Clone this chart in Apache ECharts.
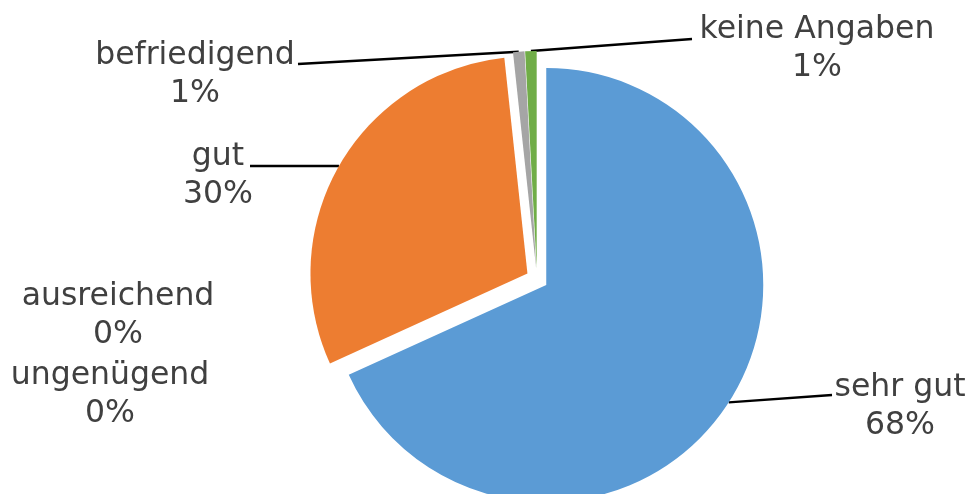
<!DOCTYPE html>
<html><head><meta charset="utf-8">
<script src="https://cdn.jsdelivr.net/npm/echarts@6/dist/echarts.min.js"></script>
<style>html,body{margin:0;padding:0;background:#fff;}#c{width:973px;height:494px;}</style>
</head><body><div id="c"></div>
<script>
const categories = ['sehr gut', 'ungenügend', 'ausreichend', 'gut', 'befriedigend', 'keine Angaben'];
const values = [68.2, 0, 0, 30.1, 0.85, 0.85];
const colors = ['#5B9BD5', '#4472C4', '#FFC000', '#ED7D31', '#A5A5A5', '#70AD47'];

// label placement (text centre) and leader-line end point, by data index
const labelPlace = [
  { x: 900, y: 407, end: [832, 395] },
  { x: 110, y: 395, end: null },
  { x: 118, y: 316, end: null },
  { x: 218, y: 176, end: [250, 166] },
  { x: 195, y: 75, end: [298, 64] },
  { x: 817, y: 49, end: [692, 39] }
];

const FONT = 'DejaVu Sans';
const CENTER = [537, 279];
const RADIUS = 217;
const EXPLODE = 11;

const chart = echarts.init(document.getElementById('c'), null, { renderer: 'canvas' });

const sliceData = categories.map((name, i) => ({
  name: name,
  value: values[i],
  selected: true,
  itemStyle: { color: colors[i] }
}));

const labelData = categories.map((name, i) => ({
  name: name,
  value: values[i],
  labelLine: { show: labelPlace[i].end !== null }
}));

chart.setOption({
  animation: false,
  series: [{
    type: 'pie',
    center: CENTER,
    radius: RADIUS,
    startAngle: 90,
    clockwise: true,
    selectedMode: 'multiple',
    selectedOffset: EXPLODE,
    emphasis: { disabled: true },
    itemStyle: { borderWidth: 0 },
    label: { show: false },
    labelLine: { show: false },
    data: sliceData
  }, {
    // transparent twin of the pie that carries the data labels
    type: 'pie',
    silent: true,
    center: CENTER,
    radius: RADIUS + EXPLODE,
    startAngle: 90,
    clockwise: true,
    selectedMode: false,
    avoidLabelOverlap: false,
    emphasis: { disabled: true },
    itemStyle: { color: 'rgba(0,0,0,0)', borderWidth: 0 },
    label: {
      show: true,
      position: 'outside',
      formatter: p => '{c|' + p.name + '}\n{c|' + Math.round(p.percent) + '%}',
      rich: {
        c: { align: 'center', fontFamily: FONT, fontSize: 31.5, lineHeight: 38, color: '#404040' }
      }
    },
    labelLine: {
      show: true,
      length: 5,
      length2: 5,
      lineStyle: { color: '#000000', width: 2.5 }
    },
    labelLayout: function (p) {
      const lp = labelPlace[p.dataIndex];
      const out = { x: lp.x, y: lp.y, align: 'center', verticalAlign: 'middle' };
      if (lp.end && p.labelLinePoints) {
        const s = p.labelLinePoints[0];
        out.labelLinePoints = [s, s, lp.end];
      }
      return out;
    },
    data: labelData
  }]
});
</script>
</body></html>
